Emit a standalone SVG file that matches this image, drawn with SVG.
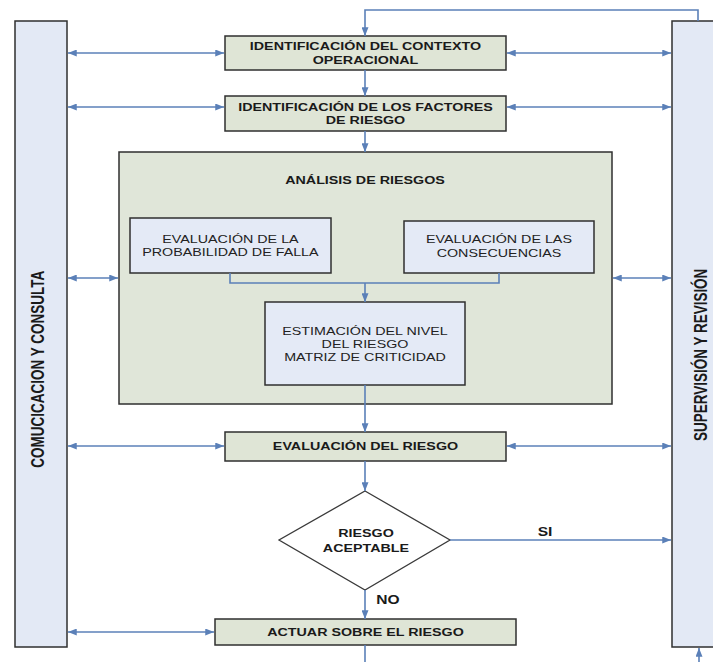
<svg xmlns="http://www.w3.org/2000/svg" width="713" height="662" viewBox="0 0 713 662">
  <defs>
    <marker id="arrow" viewBox="0 0 10 8" refX="10" refY="4" markerWidth="9" markerHeight="7" markerUnits="userSpaceOnUse" orient="auto-start-reverse">
      <path d="M0,0 L10,4 L0,8 Z" fill="#5b80b8"/>
    </marker>
    <style>
      .step { fill: #dfe5d6; stroke: #2f2f2f; stroke-width: 1.5; }
      .group { fill: #e0e6d9; stroke: #2f2f2f; stroke-width: 1.5; }
      .sub { fill: #e4eaf6; stroke: #2f2f2f; stroke-width: 1.5; }
      .bar { fill: #e3e9f5; stroke: #2f2f2f; stroke-width: 1.5; }
      .dec { fill: #ffffff; stroke: #3a3a3a; stroke-width: 1.3; }
      .link { fill: none; stroke: #5b80b8; stroke-width: 1.6; }
      .one { marker-end: url(#arrow); }
      .two { marker-start: url(#arrow); marker-end: url(#arrow); }
      text { font-family: "Liberation Sans", Arial, sans-serif; fill: #1a1a1a; text-anchor: middle;
             transform-box: fill-box; transform-origin: center; transform: scaleX(1.3); }
      .b { font-weight: bold; font-size: 11px; }
      .r { font-size: 11px; fill: #222; }
      .lbl { font-weight: bold; font-size: 12px; }
      .vert { font-weight: bold; font-size: 13.5px; transform: rotate(-90deg) scaleY(1.3); }
    </style>
  </defs>

  <!-- side bars -->
  <g id="comunicacion">
    <rect class="bar" x="15" y="21" width="52" height="626"/>
    <text class="vert" x="38" y="374">COMUCICACION Y CONSULTA</text>
  </g>
  <g id="supervision">
    <rect class="bar" x="672" y="21" width="45" height="626"/>
    <text class="vert" x="700" y="360">SUPERVISIÓN Y REVISIÓN</text>
  </g>

  <!-- process steps -->
  <g id="contexto">
    <rect class="step" x="225" y="36" width="281" height="34"/>
    <text class="b" x="365.5" y="50">IDENTIFICACIÓN DEL CONTEXTO</text>
    <text class="b" x="365.5" y="64">OPERACIONAL</text>
  </g>
  <g id="factores">
    <rect class="step" x="225" y="96" width="281" height="35"/>
    <text class="b" x="365.5" y="111">IDENTIFICACIÓN DE LOS FACTORES</text>
    <text class="b" x="365.5" y="124">DE  RIESGO</text>
  </g>
  <g id="analisis">
    <rect class="group" x="119" y="152" width="493" height="252"/>
    <text class="b" x="365" y="184">ANÁLISIS DE RIESGOS</text>
  </g>
  <g id="probabilidad">
    <rect class="sub" x="130" y="218" width="201" height="55"/>
    <text class="r" x="230.5" y="243">EVALUACIÓN DE LA</text>
    <text class="r" x="230.5" y="256">PROBABILIDAD DE FALLA</text>
  </g>
  <g id="consecuencias">
    <rect class="sub" x="404" y="221" width="190" height="52"/>
    <text class="r" x="499" y="243">EVALUACIÓN DE LAS</text>
    <text class="r" x="499" y="257">CONSECUENCIAS</text>
  </g>
  <g id="estimacion">
    <rect class="sub" x="265" y="302" width="200" height="83"/>
    <text class="r" x="365" y="335">ESTIMACIÓN DEL NIVEL</text>
    <text class="r" x="365" y="348">DEL RIESGO</text>
    <text class="r" x="365" y="361">MATRIZ DE CRITICIDAD</text>
  </g>
  <g id="evaluacion">
    <rect class="step" x="225" y="432" width="281" height="29"/>
    <text class="b" x="365.5" y="450">EVALUACIÓN DEL RIESGO</text>
  </g>
  <g id="aceptable">
    <polygon class="dec" points="365,491 450,540 365,590 279,540"/>
    <text class="b" x="366" y="537">RIESGO</text>
    <text class="b" x="366" y="552">ACEPTABLE</text>
  </g>
  <g id="actuar">
    <rect class="step" x="215" y="619" width="301" height="26"/>
    <text class="b" x="365.5" y="636">ACTUAR SOBRE EL RIESGO</text>
  </g>

  <!-- connectors -->
  <g id="connectors">
    <path class="link one" d="M698,21 V10 H365 V36"/>
    <path class="link one" d="M365,70 V96"/>
    <path class="link one" d="M365,131 V152"/>
    <path class="link" d="M230,273 V283 H499 V273"/>
    <path class="link one" d="M365,283 V302"/>
    <path class="link one" d="M365,385 V432"/>
    <path class="link one" d="M365,461 V491"/>
    <path class="link one" d="M450,540 H671"/>
    <path class="link one" d="M365,590 V619"/>
    <path class="link" d="M365,645 V662"/>
    <path class="link one" d="M699,662 V648"/>

    <path class="link two" d="M68,53 H224"/>
    <path class="link two" d="M68,107 H224"/>
    <path class="link two" d="M68,278 H118"/>
    <path class="link two" d="M68,446 H224"/>
    <path class="link two" d="M68,632 H214"/>

    <path class="link two" d="M507,53 H671"/>
    <path class="link two" d="M507,107 H671"/>
    <path class="link two" d="M613,278 H671"/>
    <path class="link two" d="M507,446 H671"/>

    <text class="lbl" x="545" y="536">SI</text>
    <text class="lbl" x="388" y="604">NO</text>
  </g>
</svg>
